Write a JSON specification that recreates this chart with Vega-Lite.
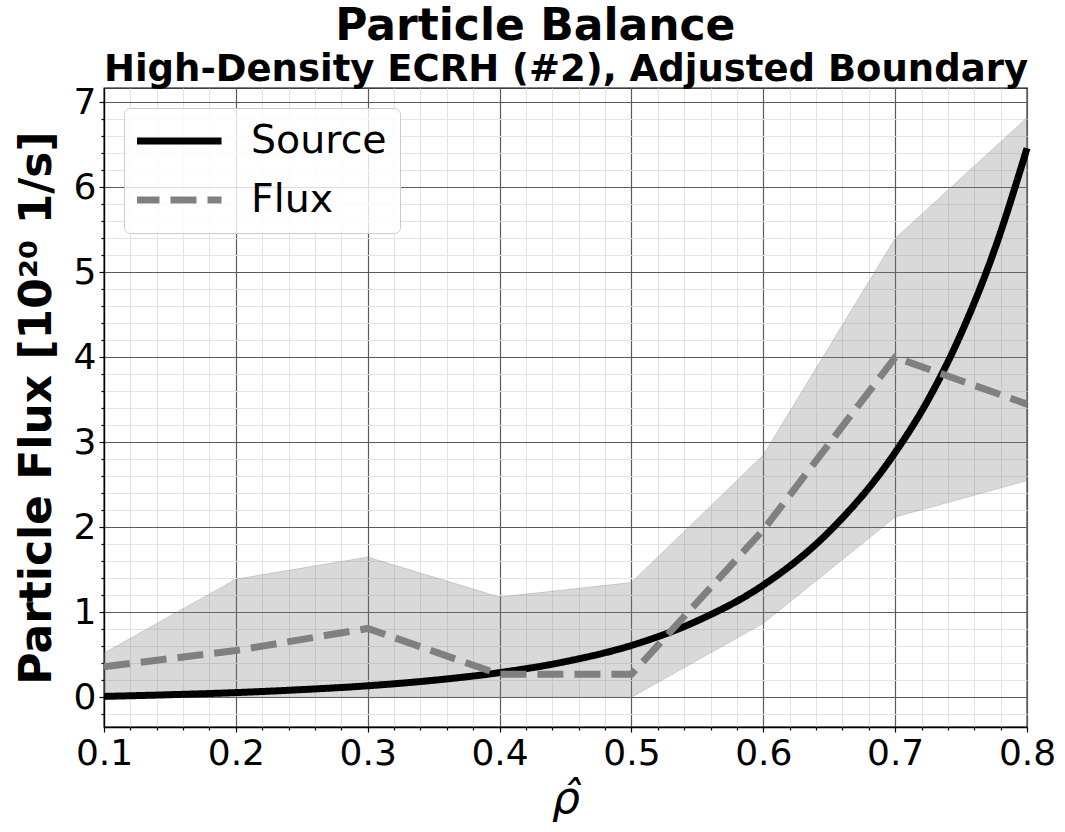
{
  "$schema": "https://vega.github.io/schema/vega-lite/v6.json",
  "width": 923,
  "height": 639,
  "autosize": {"type": "none"},
  "padding": {"left": 104, "top": 88, "right": 38, "bottom": 105},
  "background": "white",
  "config": {
    "view": {"stroke": "black", "strokeWidth": 1.3},
    "font": "DejaVu Sans"
  },
  "title": {
    "text": "Particle Balance",
    "frame": "bounds",
    "anchor": "middle",
    "font": "DejaVu Sans",
    "fontSize": 44,
    "fontWeight": "bold",
    "color": "black",
    "offset": 1
  },
  "datasets": {
    "band": [
      {"rho": 0.1, "lo": 0.0, "hi": 0.52},
      {"rho": 0.2, "lo": 0.0, "hi": 1.39},
      {"rho": 0.3, "lo": 0.0, "hi": 1.65},
      {"rho": 0.4, "lo": 0.0, "hi": 1.18},
      {"rho": 0.5, "lo": 0.0, "hi": 1.35},
      {"rho": 0.6, "lo": 0.87, "hi": 2.85},
      {"rho": 0.7, "lo": 2.12, "hi": 5.4},
      {"rho": 0.8, "lo": 2.55, "hi": 6.82}
    ],
    "lines": [
      {"rho": 0.1, "series": "Source", "value": 0.01},
      {"rho": 0.15, "series": "Source", "value": 0.03},
      {"rho": 0.2, "series": "Source", "value": 0.055},
      {"rho": 0.25, "series": "Source", "value": 0.09},
      {"rho": 0.3, "series": "Source", "value": 0.135},
      {"rho": 0.35, "series": "Source", "value": 0.2},
      {"rho": 0.4, "series": "Source", "value": 0.29},
      {"rho": 0.45, "series": "Source", "value": 0.42},
      {"rho": 0.5, "series": "Source", "value": 0.61},
      {"rho": 0.55, "series": "Source", "value": 0.9},
      {"rho": 0.6, "series": "Source", "value": 1.32},
      {"rho": 0.65, "series": "Source", "value": 1.95},
      {"rho": 0.7, "series": "Source", "value": 2.88},
      {"rho": 0.725, "series": "Source", "value": 3.5},
      {"rho": 0.75, "series": "Source", "value": 4.28},
      {"rho": 0.775, "series": "Source", "value": 5.25},
      {"rho": 0.8, "series": "Source", "value": 6.46},
      {"rho": 0.1, "series": "Flux", "value": 0.36},
      {"rho": 0.2, "series": "Flux", "value": 0.55},
      {"rho": 0.3, "series": "Flux", "value": 0.81},
      {"rho": 0.4, "series": "Flux", "value": 0.27},
      {"rho": 0.5, "series": "Flux", "value": 0.27},
      {"rho": 0.6, "series": "Flux", "value": 1.97},
      {"rho": 0.7, "series": "Flux", "value": 4.0},
      {"rho": 0.8, "series": "Flux", "value": 3.45}
    ]
  },
  "layer": [
    {
      "data": {"name": "band"},
      "mark": {"type": "area", "fill": "#808080", "fillOpacity": 0.3, "stroke": "#808080", "strokeOpacity": 0.3, "strokeWidth": 1},
      "encoding": {
        "x": {
          "field": "rho",
          "type": "quantitative",
          "scale": {"domain": [0.1, 0.8], "nice": false, "zero": false},
          "axis": {
            "orient": "bottom",
            "title": "ρ̂",
            "titleFont": "DejaVu Sans",
            "titleFontSize": 44,
            "titleFontStyle": "italic",
            "titleFontWeight": "normal",
            "titleColor": "black",
            "titlePadding": 6,
            "tickCount": 200,
            "values": [0.1, 0.12, 0.14, 0.16, 0.18, 0.2, 0.22, 0.24, 0.26, 0.28, 0.3, 0.32, 0.34, 0.36, 0.38, 0.4, 0.42, 0.44, 0.46, 0.48, 0.5, 0.52, 0.54, 0.56, 0.58, 0.6, 0.62, 0.64, 0.66, 0.68, 0.7, 0.72, 0.74, 0.76, 0.78, 0.8],
            "labelExpr": "abs(datum.value*10 - round(datum.value*10)) < 0.001 ? format(datum.value, '.1f') : ''",
            "labelFont": "DejaVu Sans",
            "labelFontSize": 36,
            "labelColor": "black",
            "labelPadding": 4,
            "labelOverlap": false,
            "labelFlush": false,
            "domainColor": "black",
            "domainWidth": 1.3,
            "tickColor": "black",
            "tickWidth": 1.2,
            "tickSize": {"condition": {"test": "abs(datum.value*10 - round(datum.value*10)) < 0.001", "value": 5}, "value": 3},
            "grid": true,
            "gridColor": {"condition": {"test": "abs(datum.value*10 - round(datum.value*10)) < 0.001", "value": "#5a5a5a"}, "value": "#e3e3e3"},
            "gridWidth": {"condition": {"test": "abs(datum.value*10 - round(datum.value*10)) < 0.001", "value": 1.2}, "value": 1}
          }
        },
        "y": {
          "field": "lo",
          "type": "quantitative",
          "scale": {"domain": [-0.35, 7.17], "nice": false, "zero": false},
          "axis": {
            "title": "Particle Flux [10²⁰ 1/s]",
            "titleFont": "DejaVu Sans",
            "titleFontSize": 44,
            "titleFontWeight": "bold",
            "titleColor": "black",
            "titlePadding": 14,
            "tickCount": 200,
            "values": [-0.2, 0, 0.2, 0.4, 0.6, 0.8, 1, 1.2, 1.4, 1.6, 1.8, 2, 2.2, 2.4, 2.6, 2.8, 3, 3.2, 3.4, 3.6, 3.8, 4, 4.2, 4.4, 4.6, 4.8, 5, 5.2, 5.4, 5.6, 5.8, 6, 6.2, 6.4, 6.6, 6.8, 7],
            "labelExpr": "abs(datum.value - round(datum.value)) < 0.001 ? format(datum.value, '.0f') : ''",
            "labelFont": "DejaVu Sans",
            "labelFontSize": 36,
            "labelColor": "black",
            "labelPadding": 3,
            "labelOverlap": false,
            "labelFlush": false,
            "domainColor": "black",
            "domainWidth": 1.3,
            "tickColor": "black",
            "tickWidth": 1.2,
            "tickSize": {"condition": {"test": "abs(datum.value - round(datum.value)) < 0.001", "value": 5}, "value": 3},
            "grid": true,
            "gridColor": {"condition": {"test": "abs(datum.value - round(datum.value)) < 0.001", "value": "#5a5a5a"}, "value": "#e3e3e3"},
            "gridWidth": {"condition": {"test": "abs(datum.value - round(datum.value)) < 0.001", "value": 1.2}, "value": 1}
          }
        },
        "y2": {"field": "hi"}
      }
    },
    {
      "data": {"name": "lines"},
      "transform": [{"filter": "datum.series === 'Source'"}],
      "mark": {"type": "line", "strokeWidth": 7, "strokeCap": "butt", "interpolate": "monotone"},
      "encoding": {
        "x": {
          "field": "rho",
          "type": "quantitative",
          "axis": {
            "orient": "top",
            "title": "High-Density ECRH (#2), Adjusted Boundary",
            "titleFont": "DejaVu Sans",
            "titleFontSize": 37,
            "titleFontWeight": "bold",
            "titleColor": "black",
            "titleBaseline": "alphabetic",
            "titlePadding": 8,
            "labels": false,
            "ticks": false,
            "domain": false,
            "grid": false
          }
        },
        "y": {"field": "value", "type": "quantitative"},
        "color": {
          "field": "series",
          "type": "nominal",
          "scale": {"domain": ["Source", "Flux"], "range": ["#000000", "#808080"]},
          "legend": {
            "title": null,
            "orient": "top-left",
            "offset": 20,
            "symbolType": "stroke",
            "symbolSize": 7744,
            "symbolStrokeWidth": 7,
            "symbolOffset": -7,
            "clipHeight": 40,
            "labelFont": "DejaVu Sans",
            "labelFontSize": 39.5,
            "labelColor": "black",
            "labelOffset": 26,
            "padding": 13,
            "rowPadding": 19,
            "fillColor": "rgba(255,255,255,0.8)",
            "strokeColor": "#cccccc",
            "cornerRadius": 6
          }
        },
        "strokeDash": {
          "field": "series",
          "type": "nominal",
          "scale": {"domain": ["Source", "Flux"], "range": [[1, 0], [26, 11]]}
        }
      }
    },
    {
      "data": {"name": "lines"},
      "transform": [{"filter": "datum.series === 'Flux'"}],
      "mark": {"type": "line", "strokeWidth": 7, "strokeCap": "butt", "interpolate": "linear"},
      "encoding": {
        "x": {"field": "rho", "type": "quantitative", "axis": null},
        "y": {"field": "value", "type": "quantitative"},
        "color": {"field": "series", "type": "nominal"},
        "strokeDash": {"field": "series", "type": "nominal"}
      }
    }
  ],
  "resolve": {"axis": {"x": "independent"}}
}
